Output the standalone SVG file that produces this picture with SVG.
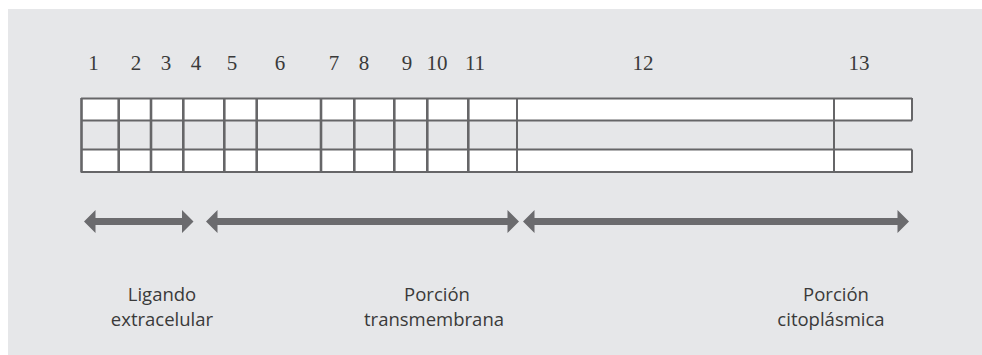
<svg xmlns="http://www.w3.org/2000/svg" width="982" height="355" viewBox="0 0 982 355">
  <style>
    .num { font-family: "Liberation Serif", "DejaVu Serif", serif; font-size: 21px; fill: #3a3a3a; text-anchor: middle; }
    .lbl { font-family: "Open Sans", "Liberation Sans", sans-serif; font-size: 18.5px; fill: #3a3a3a; text-anchor: middle; }
    .cell { fill: #ffffff; }
    .grid { stroke: #666668; fill: none; }
    .arrow { fill: #6b6b6e; }
  </style>

  <!-- panel background -->
  <rect x="8" y="9" width="974" height="346" fill="#e6e7e9"/>

  <!-- segment numbers -->
  <g id="numbers">
    <text class="num" x="93.5" y="70">1</text>
    <text class="num" x="136" y="70">2</text>
    <text class="num" x="166" y="70">3</text>
    <text class="num" x="196" y="70">4</text>
    <text class="num" x="232" y="70">5</text>
    <text class="num" x="280" y="70">6</text>
    <text class="num" x="334" y="70">7</text>
    <text class="num" x="364" y="70">8</text>
    <text class="num" x="407" y="70">9</text>
    <text class="num" x="437" y="70">10</text>
    <text class="num" x="475" y="70">11</text>
    <text class="num" x="643" y="70">12</text>
    <text class="num" x="859" y="70">13</text>
  </g>

  <!-- receptor segment grid -->
  <g id="grid">
    <rect class="cell" x="81" y="98.5" width="831" height="21.5"/>
    <rect class="cell" x="81" y="150" width="831" height="22"/>
    <!-- horizontal rules -->
    <g class="grid" stroke-width="2">
      <line x1="81" y1="98.5" x2="912" y2="98.5"/>
      <line x1="81" y1="120.5" x2="912" y2="120.5"/>
      <line x1="81" y1="149.5" x2="912" y2="149.5"/>
      <line x1="81" y1="172" x2="912" y2="172"/>
      <line x1="912" y1="98" x2="912" y2="120.5"/>
      <line x1="912" y1="149.5" x2="912" y2="172.5"/>
    </g>
    <!-- segment dividers -->
    <g class="grid" stroke-width="2.6">
      <line x1="81.5" y1="98" x2="81.5" y2="172.5"/>
      <line x1="118.7" y1="98" x2="118.7" y2="172.5"/>
      <line x1="151" y1="98" x2="151" y2="172.5"/>
      <line x1="183.3" y1="98" x2="183.3" y2="172.5"/>
      <line x1="224.3" y1="98" x2="224.3" y2="172.5"/>
      <line x1="256.7" y1="98" x2="256.7" y2="172.5"/>
      <line x1="321" y1="98" x2="321" y2="172.5"/>
      <line x1="354.3" y1="98" x2="354.3" y2="172.5"/>
      <line x1="394.3" y1="98" x2="394.3" y2="172.5"/>
      <line x1="427.3" y1="98" x2="427.3" y2="172.5"/>
      <line x1="468.3" y1="98" x2="468.3" y2="172.5"/>
    </g>
    <g class="grid" stroke-width="2">
      <line x1="517" y1="98" x2="517" y2="172.5"/>
      <line x1="834" y1="98" x2="834" y2="172.5"/>
    </g>
  </g>

  <!-- domain span arrows -->
  <g id="connectors">
    <path class="arrow" d="M84,221.5 L95.5,210 L95.5,218 L182,218 L182,210 L193.5,221.5 L182,233 L182,225 L95.5,225 L95.5,233 Z"/>
    <path class="arrow" d="M206,221.5 L217.5,210 L217.5,218 L507.5,218 L507.5,210 L519,221.5 L507.5,233 L507.5,225 L217.5,225 L217.5,233 Z"/>
    <path class="arrow" d="M523,221.5 L534.5,210 L534.5,218 L897.5,218 L897.5,210 L909,221.5 L897.5,233 L897.5,225 L534.5,225 L534.5,233 Z"/>
  </g>

  <!-- domain labels -->
  <g id="label-extracelular">
    <text class="lbl" x="162" y="301">Ligando</text>
    <text class="lbl" x="162" y="325.5">extracelular</text>
  </g>
  <g id="label-transmembrana">
    <text class="lbl" x="437" y="301">Porción</text>
    <text class="lbl" x="434" y="325.5">transmembrana</text>
  </g>
  <g id="label-citoplasmica">
    <text class="lbl" x="836" y="301">Porción</text>
    <text class="lbl" x="831" y="325.5">citoplásmica</text>
  </g>
</svg>
